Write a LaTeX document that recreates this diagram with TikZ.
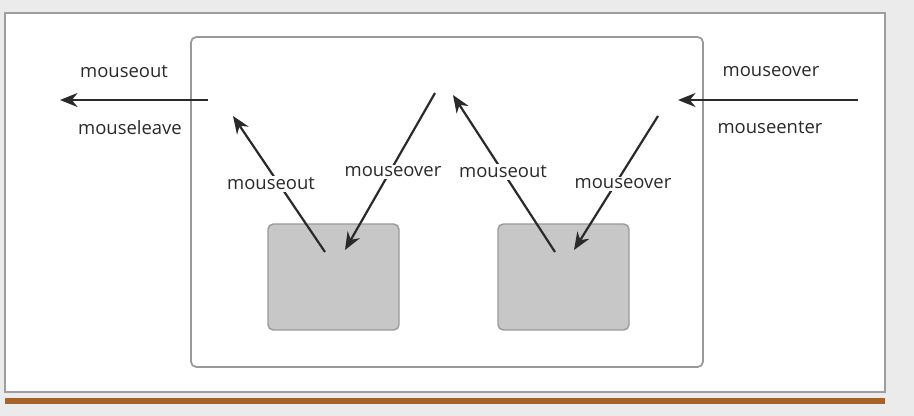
\documentclass[tikz,border=0pt]{standalone}
\usepackage{fontspec}
\setmainfont{Open Sans}
\usetikzlibrary{arrows.meta}
\definecolor{pagegray}{HTML}{EBEBEB}
\definecolor{rulebrown}{HTML}{A5632B}
\definecolor{ink}{HTML}{2A2A2A}

\begin{document}
\begin{tikzpicture}[x=0.02cm, y=-0.02cm, font=\fontsize{10.5}{12}\selectfont,
    evt/.style={draw=ink, line width=1.25pt, -{Stealth[length=10pt,width=8pt]}},
    lbl/.style={text=ink, fill=white, inner sep=1pt},
    elem/.style={draw=black!40, fill=black!22, line width=0.8pt, rounded corners=3pt, minimum width=2.62cm, minimum height=2.12cm}]
  \useasboundingbox[fill=pagegray] (0,0) rectangle (914,416);
  \draw[fill=white, draw=black!38, line width=1pt] (5,13) rectangle (885,392);
  \fill[rulebrown] (5,398) rectangle (885,404);
  \draw[draw=black!40, line width=1pt, rounded corners=3pt] (191,37) rectangle (703,367);
  \node[elem] (left) at (333.5,277) {}; \node[elem] (right) at (563.5,277) {};
  % points the arrows start from and run to
  \coordinate (lout) at (325,252); \coordinate (lin) at (345,250);
  \coordinate (rout) at (555,252); \coordinate (rin) at (574,250);
  \coordinate (ltip) at (233,116); \coordinate (lsrc) at (435,93);
  \coordinate (rtip) at (453,95); \coordinate (rsrc) at (658,116);
  \coordinate (exit0) at (208,100); \coordinate (exit1) at (60,100);
  \coordinate (enter0) at (858,100); \coordinate (enter1) at (678,100);
  \draw[evt] (exit0) -- (exit1); \draw[evt] (enter0) -- (enter1);
  \draw[evt] (lout) -- (ltip); \draw[evt] (lsrc) -- (lin);
  \draw[evt] (rout) -- (rtip); \draw[evt] (rsrc) -- (rin);
  \node[lbl] (t1) at (124,72) {mouseout}; \node[lbl] (t2) at (130,128) {mouseleave};
  \node[lbl] (t3) at (771,72) {mouseover}; \node[lbl] (t4) at (770,128) {mouseenter};
  \node[lbl] (t5) at (271,184) {mouseout}; \node[lbl] (t6) at (393,172) {mouseover};
  \node[lbl] (t7) at (503,172) {mouseout}; \node[lbl] (t8) at (623,184) {mouseover};
\end{tikzpicture}
\end{document}
